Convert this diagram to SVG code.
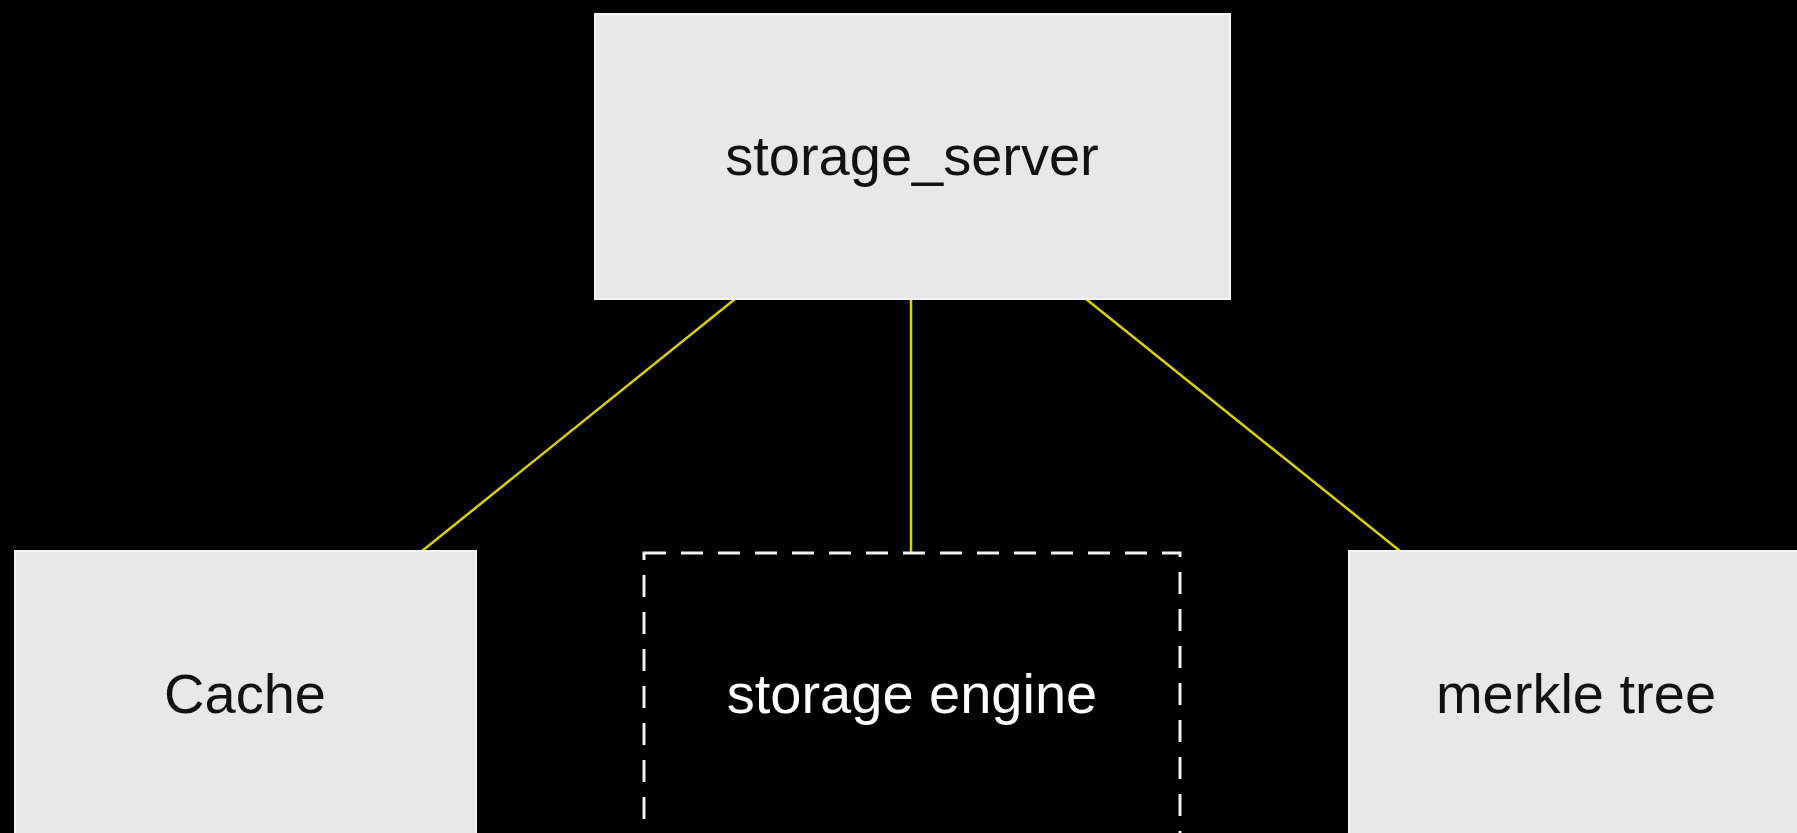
<svg xmlns="http://www.w3.org/2000/svg" width="1797" height="833" viewBox="0 0 1797 833">
<style>
.box{fill:#e8e8e8;stroke:#f4f4f4;stroke-width:2}
.dash{fill:#000;stroke:#f0f0f0;stroke-width:3;stroke-dasharray:22 15}
.lbl{font-family:"Liberation Sans",Arial,sans-serif;font-size:56px;text-anchor:middle;fill:#111}
.wl{fill:#fff}
.edge{stroke:#d8d000;stroke-width:2.5;fill:none}
</style>
<rect width="1797" height="833" fill="#000"/>
<g id="connectors">
<line class="edge" x1="735" y1="299" x2="422" y2="551"/>
<line class="edge" x1="911" y1="299" x2="911" y2="552"/>
<line class="edge" x1="1086" y1="299" x2="1400" y2="551"/>
</g>
<g id="storage_server">
<rect class="box" x="595" y="14" width="635" height="285"/>
<text class="lbl" x="912" y="175">storage_server</text>
</g>
<g id="cache">
<rect class="box" x="15" y="551" width="461" height="300"/>
<text class="lbl" x="245" y="713">Cache</text>
</g>
<g id="storage_engine">
<rect class="dash" x="644" y="553" width="536" height="300"/>
<text class="lbl wl" x="912" y="713">storage engine</text>
</g>
<g id="merkle_tree">
<rect class="box" x="1349" y="551" width="470" height="300"/>
<text class="lbl" x="1576" y="713">merkle tree</text>
</g>
</svg>
